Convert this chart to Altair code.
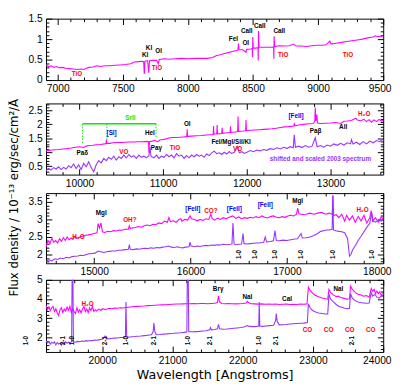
import altair as alt
import pandas as pd

# ---------------- data ----------------
P1_MAGENTA = [(6910,0.37),(6930,0.33),(6950,0.35),(6970,0.31),(6990,0.33),(7010,0.30),(7040,0.31),(7060,0.29),
 (7090,0.28),(7120,0.27),(7150,0.26),(7180,0.27),(7200,0.26),(7220,0.29),(7240,0.31),(7270,0.32),(7300,0.35),
 (7330,0.33),(7360,0.35),(7400,0.35),(7440,0.36),(7480,0.37),(7520,0.38),(7560,0.40),(7590,0.44),(7620,0.45),
 (7650,0.46),(7660,0.45),(7665,0.15),(7670,0.46),(7690,0.47),(7699,0.18),(7705,0.47),(7730,0.48),(7760,0.48),
 (7772,0.40),(7780,0.50),(7820,0.52),(7860,0.51),(7900,0.52),(7950,0.53),(8000,0.52),(8050,0.53),(8100,0.53),
 (8150,0.53),(8190,0.55),(8220,0.60),(8250,0.62),(8280,0.65),(8310,0.67),(8340,0.70),(8370,0.72),(8384,0.73),
 (8388,0.89),(8392,0.74),(8420,0.74),(8446,0.68),(8450,0.75),(8480,0.76),(8494,0.77),(8496,0.56),(8498,1.05),
 (8502,0.78),(8520,0.78),(8538,0.79),(8540,0.48),(8542,1.20),(8546,0.80),(8580,0.80),(8620,0.80),(8650,0.80),
 (8658,0.81),(8660,0.52),(8662,1.07),(8666,0.82),(8700,0.84),(8740,0.83),(8780,0.84),(8810,0.88),(8830,0.83),
 (8870,0.83),(8910,0.82),(8950,0.84),(8990,0.85),(9030,0.85),(9060,0.86),(9090,0.95),(9100,0.88),(9140,0.90),
 (9180,0.92),(9220,0.94),(9260,0.96),(9300,0.98),(9340,1.00),(9380,1.03),(9420,1.05),(9440,1.08),(9460,1.06),
 (9500,1.08)]

P2_MAGENTA = [(9600,1.05),(9650,1.07),(9700,1.09),(9750,1.10),(9800,1.12),(9850,1.13),(9900,1.15),(9950,1.18),
 (10000,1.20),(10049,1.17),(10080,1.22),(10120,1.24),(10160,1.25),(10200,1.27),(10250,1.28),(10300,1.30),
 (10318,1.31),(10322,1.45),(10326,1.32),(10360,1.32),(10400,1.34),(10450,1.35),(10500,1.35),(10550,1.36),
 (10600,1.37),(10650,1.37),(10700,1.38),(10750,1.38),(10800,1.39),(10825,1.38),(10830,0.98),(10836,1.38),
 (10870,1.40),(10900,1.42),(10938,1.38),(10960,1.44),(11000,1.46),(11040,1.48),(11080,1.52),(11120,1.53),
 (11160,1.53),(11200,1.54),(11240,1.55),(11282,1.56),(11287,1.82),(11292,1.57),(11340,1.58),(11400,1.59),
 (11460,1.60),(11520,1.62),(11560,1.63),(11598,1.64),(11602,1.94),(11606,1.65),(11640,1.66),(11645,1.98),
 (11650,1.66),(11700,1.67),(11705,1.88),(11710,1.68),(11760,1.70),(11800,1.71),(11805,1.93),(11810,1.71),
 (11860,1.73),(11890,1.74),(11895,2.28),(11900,1.75),(11950,1.76),(11985,1.77),(11990,2.16),(11995,1.78),
 (12050,1.79),(12100,1.80),(12150,1.81),(12200,1.82),(12250,1.83),(12300,1.84),(12350,1.86),(12400,1.89),
 (12450,1.91),(12500,1.92),(12560,1.94),(12567,2.02),(12575,1.95),(12620,1.98),(12680,2.00),(12740,2.02),
 (12790,2.03),(12812,2.10),(12818,2.60),(12825,2.12),(12835,2.35),(12845,2.05),(12880,2.03),(12940,2.04),
 (13000,2.05),(13060,2.07),(13123,2.03),(13160,2.11),(13200,2.12),(13250,2.14),(13300,2.22),(13320,2.16),
 (13360,2.13),(13400,2.18),(13430,2.10),(13460,2.17),(13490,2.08),(13520,2.16),(13550,2.10),(13580,2.18),
 (13610,2.12),(13630,2.15)]

P2_PURPLE = [(9600,0.33),(9630,0.42),(9660,0.36),(9690,0.45),(9720,0.40),(9750,0.48),(9780,0.38),(9810,0.46),
 (9840,0.40),(9870,0.52),(9900,0.45),(9930,0.58),(9960,0.42),(9990,0.55),(10020,0.38),(10050,0.60),(10080,0.48),
 (10110,0.66),(10140,0.45),(10170,0.30),(10200,0.55),(10230,0.70),(10260,0.62),(10290,0.78),(10320,0.70),
 (10350,0.82),(10380,0.75),(10410,0.86),(10440,0.72),(10470,0.84),(10500,0.78),(10530,0.90),(10560,0.80),
 (10590,0.92),(10620,0.83),(10650,0.88),(10680,0.78),(10710,0.90),(10740,0.82),(10770,0.86),(10800,0.80),
 (10830,0.88),(10842,1.20),(10855,0.85),(10890,0.80),(10920,0.90),(10950,0.78),(10980,0.86),(11010,0.82),
 (11040,0.92),(11070,0.84),(11100,0.90),(11130,0.80),(11160,0.95),(11190,0.86),(11220,0.90),(11250,0.78),
 (11280,0.88),(11310,0.80),(11340,0.90),(11370,0.84),(11400,0.92),(11430,0.86),(11460,0.90),(11490,0.82),
 (11520,0.94),(11550,0.88),(11580,0.98),(11610,1.04),(11640,0.95),(11670,0.98),(11700,0.92),(11730,1.00),
 (11760,0.94),(11790,1.02),(11820,0.96),(11850,1.00),(11890,1.20),(11910,0.98),(11940,1.02),(11970,0.96),
 (12000,1.00),(12040,1.06),(12080,1.02),(12120,1.08),(12160,1.05),(12200,1.10),(12240,1.07),(12280,1.13),
 (12320,1.10),(12360,1.16),(12400,1.12),(12440,1.18),(12480,1.14),(12520,1.20),(12555,1.16),(12567,1.63),
 (12580,1.18),(12620,1.22),(12660,1.17),(12700,1.24),(12740,1.18),(12780,1.22),(12818,1.52),(12840,1.20),
 (12880,1.24),(12920,1.18),(12960,1.26),(13000,1.22),(13040,1.30),(13080,1.25),(13120,1.32),(13160,1.26),
 (13200,1.34),(13240,1.30),(13250,1.45),(13270,1.30),(13310,1.36),(13350,1.28),(13390,1.38),(13430,1.30),
 (13470,1.40),(13510,1.34),(13550,1.42),(13590,1.38),(13630,1.48)]

P3_MAGENTA = [(14500,2.22),(14520,2.40),(14540,2.30),(14560,2.46),(14580,2.35),(14600,2.40),(14620,2.33),
 (14640,2.45),(14660,2.38),(14680,2.48),(14700,2.40),(14720,2.50),(14740,2.42),(14760,2.47),(14780,2.43),
 (14800,2.52),(14820,2.46),(14850,2.50),(14880,2.52),(14910,2.55),(14940,2.56),(14970,2.58),(15000,2.60),
 (15030,2.62),(15040,2.88),(15055,2.75),(15070,2.90),(15085,2.65),(15110,2.63),(15140,2.66),(15170,2.65),
 (15200,2.68),(15230,2.67),(15260,2.70),(15290,2.69),(15320,2.72),(15355,2.72),(15365,2.82),(15375,2.74),
 (15400,2.76),(15430,2.77),(15460,2.80),(15490,2.78),(15520,2.82),(15550,2.84),(15580,2.82),(15610,2.86),
 (15640,2.85),(15670,2.90),(15700,2.88),(15730,2.95),(15760,2.92),(15775,3.05),(15790,2.94),(15820,2.96),
 (15850,2.92),(15880,3.00),(15900,3.02),(15910,2.95),(15940,3.00),(15970,2.98),(15995,3.10),(16010,3.02),
 (16040,3.00),(16070,2.96),(16100,3.00),(16130,2.97),(16160,3.02),(16190,3.00),(16210,3.15),(16225,3.02),
 (16250,2.98),(16280,3.04),(16310,3.00),(16340,3.05),(16370,3.02),(16400,3.06),(16440,3.10),(16470,3.03),
 (16500,3.07),(16530,3.02),(16560,3.05),(16590,3.03),(16620,3.06),(16650,3.04),(16680,3.08),(16710,3.05),
 (16740,3.10),(16770,3.06),(16800,3.04),(16830,3.08),(16860,3.10),(16890,3.06),(16920,3.05),(16950,3.08),
 (16980,3.06),(17010,3.10),(17040,3.12),(17070,3.10),(17100,3.15),(17112,3.32),(17125,3.16),(17160,3.14),
 (17200,3.15),(17240,3.18),(17280,3.15),(17320,3.18),(17360,3.20),(17400,3.15),(17440,3.18),(17470,3.14),
 (17478,3.68),(17486,3.10),(17510,3.14),(17540,3.05),(17570,3.15),(17600,2.95),(17620,3.12),(17650,2.98),
 (17680,3.10),(17710,2.92),(17740,3.08),(17770,2.96),(17800,3.12),(17830,2.90),(17860,3.05),(17875,3.25),
 (17890,2.95),(17920,3.05),(17950,2.92),(17980,3.08),(18000,3.00)]

P3_PURPLE = [(14500,1.80),(14530,1.85),(14560,1.82),(14590,1.88),(14620,1.86),(14650,1.90),(14680,1.88),
 (14710,1.92),(14740,1.90),(14770,1.94),(14800,1.95),(14830,1.96),(14860,1.98),(14890,1.97),(14920,2.00),
 (14950,2.02),(14980,2.03),(15010,2.04),(15040,2.10),(15070,2.08),(15100,2.06),(15130,2.08),(15160,2.09),
 (15190,2.10),(15220,2.10),(15250,2.12),(15280,2.12),(15320,2.14),(15355,2.15),(15365,2.28),(15375,2.15),
 (15410,2.14),(15440,2.16),(15470,2.15),(15500,2.17),(15530,2.18),(15560,2.17),(15590,2.19),(15620,2.18),
 (15650,2.20),(15680,2.19),(15710,2.21),(15740,2.22),(15770,2.24),(15800,2.21),(15830,2.20),(15860,2.22),
 (15890,2.20),(15920,2.19),(15950,2.21),(15985,2.22),(15995,2.35),(16005,2.24),(16040,2.22),(16070,2.24),
 (16100,2.23),(16130,2.25),(16160,2.26),(16190,2.25),(16220,2.27),(16250,2.26),(16280,2.28),(16310,2.27),
 (16340,2.29),(16370,2.28),(16410,2.29),(16430,2.30),(16440,2.90),(16452,2.30),(16470,2.28),(16500,2.29),
 (16530,2.30),(16545,2.60),(16555,2.31),(16590,2.30),(16620,2.31),(16650,2.32),(16680,2.33),(16710,2.33),
 (16740,2.34),(16760,2.35),(16775,2.50),(16790,2.36),(16830,2.37),(16860,2.39),(16877,2.68),(16890,2.40),
 (16920,2.39),(16960,2.41),(17000,2.40),(17040,2.42),(17080,2.44),(17110,2.45),(17147,2.60),(17160,2.47),
 (17200,2.48),(17240,2.50),(17280,2.54),(17320,2.60),(17350,2.66),(17380,2.68),(17410,2.70),(17440,2.70),
 (17470,2.72),(17476,3.68),(17484,2.70),(17510,2.68),(17540,2.66),(17570,2.65),(17600,2.62),(17630,2.45),
 (17650,1.95),(17665,2.00),(17680,2.12),(17710,2.25),(17740,2.40),(17770,2.52),(17800,2.65),(17830,2.78),
 (17860,2.88),(17880,3.20),(17895,2.95),(17920,2.92),(17950,2.98),(17980,2.95),(18000,3.00)]

P4_MAGENTA = [(19200,3.67),(19220,3.45),(19240,3.60),(19260,3.40),(19280,3.55),(19300,3.62),(19320,3.35),
 (19340,3.50),(19360,3.28),(19380,3.15),(19400,3.45),(19420,3.55),(19440,3.30),(19460,3.48),(19480,3.38),
 (19500,3.58),(19520,3.42),(19540,3.62),(19560,3.30),(19580,3.50),(19600,3.35),(19620,3.25),(19640,3.55),
 (19660,3.32),(19680,3.45),(19700,3.28),(19720,3.50),(19740,3.62),(19760,3.35),(19780,3.48),(19800,3.30),
 (19820,3.55),(19840,3.40),(19860,3.62),(19880,3.36),(19900,3.45),(19920,3.38),(19950,3.48),(19980,3.42),
 (20010,3.50),(20040,3.46),(20070,3.48),(20100,3.52),(20140,3.50),(20180,3.53),(20220,3.52),(20260,3.55),
 (20300,3.54),(20340,3.56),(20380,3.58),(20420,3.60),(20460,3.61),(20500,3.62),(20550,3.63),(20600,3.64),
 (20650,3.66),(20700,3.67),(20750,3.68),(20800,3.69),(20850,3.70),(20900,3.71),(20950,3.72),(21000,3.73),
 (21050,3.74),(21100,3.74),(21150,3.75),(21200,3.76),(21250,3.76),(21300,3.77),(21350,3.76),(21400,3.77),
 (21450,3.77),(21500,3.76),(21550,3.77),(21600,3.78),(21640,3.82),(21655,4.15),(21670,3.85),(21700,3.77),
 (21750,3.76),(21800,3.77),(21850,3.76),(21900,3.75),(21950,3.76),(22000,3.77),(22050,3.80),(22065,3.88),
 (22080,3.82),(22120,3.76),(22170,3.75),(22220,3.74),(22270,3.75),(22320,3.73),(22370,3.74),(22420,3.73),
 (22470,3.74),(22520,3.72),(22570,3.73),(22620,3.74),(22670,3.72),(22720,3.73),(22770,3.72),(22820,3.74),
 (22870,3.73),(22915,3.75),(22935,4.62),(22960,4.45),(22990,4.32),(23030,4.20),(23080,4.12),(23130,4.06),
 (23180,4.02),(23210,4.00),(23227,4.50),(23250,4.35),(23290,4.22),(23330,4.12),(23361,4.15),(23390,4.08),
 (23430,4.05),(23480,4.00),(23520,4.02),(23535,4.67),(23560,4.50),(23600,4.35),(23640,4.25),(23680,4.22),
 (23720,4.15),(23760,4.18),(23800,4.10),(23829,4.55),(23850,4.40),(23870,4.50),(23890,4.30),(23910,4.42),
 (23930,4.28),(23950,4.38),(23970,4.22),(24000,4.30)]

P4_PURPLE = [(19200,1.84),(19220,1.72),(19240,1.80),(19260,1.65),(19280,1.76),(19300,1.70),(19320,1.78),
 (19340,1.62),(19360,1.74),(19380,1.66),(19400,1.72),(19420,1.60),(19440,1.75),(19460,1.68),(19480,1.78),
 (19500,1.70),(19520,1.76),(19550,1.72),(19565,1.80),(19572,5.6),(19582,5.6),(19590,1.80),(19620,1.76),
 (19650,1.80),(19680,1.78),(19710,1.82),(19740,1.80),(19770,1.84),(19800,1.82),(19830,1.85),(19860,1.84),
 (19890,1.87),(19920,1.86),(19950,1.88),(19980,1.90),(20010,1.92),(20040,2.08),(20060,1.93),(20100,1.94),
 (20140,1.96),(20180,1.97),(20220,1.98),(20260,2.00),(20300,2.01),(20330,2.05),(20338,3.85),(20348,2.05),
 (20380,2.02),(20420,2.04),(20460,2.05),(20500,2.07),(20550,2.08),(20600,2.10),(20650,2.12),(20700,2.14),
 (20725,2.30),(20735,2.75),(20750,2.30),(20770,2.15),(20820,2.16),(20870,2.18),(20920,2.19),(20970,2.21),
 (21020,2.22),(21070,2.24),(21120,2.25),(21170,2.27),(21205,2.30),(21212,5.6),(21224,5.6),(21232,2.30),
 (21280,2.30),(21330,2.31),(21380,2.32),(21430,2.34),(21480,2.35),(21530,2.40),(21542,2.52),(21555,2.40),
 (21600,2.42),(21640,2.45),(21655,2.68),(21670,2.46),(21720,2.43),(21770,2.44),(21820,2.46),(21870,2.48),
 (21920,2.50),(21970,2.52),(22020,2.55),(22065,2.62),(22100,2.58),(22150,2.57),(22200,2.58),(22228,2.60),
 (22235,3.85),(22243,2.60),(22280,2.58),(22330,2.60),(22380,2.62),(22440,2.64),(22470,2.90),(22477,3.25),
 (22490,2.85),(22520,2.66),(22570,2.67),(22620,2.68),(22670,2.70),(22720,2.72),(22770,2.73),(22820,2.74),
 (22870,2.75),(22920,2.78),(22935,3.75),(22960,3.55),(22990,3.42),(23030,3.34),(23080,3.28),(23130,3.25),
 (23180,3.22),(23210,3.22),(23227,4.25),(23250,4.00),(23290,3.85),(23330,3.72),(23370,3.62),(23410,3.58),
 (23450,3.52),(23500,3.50),(23520,3.52),(23535,4.28),(23560,4.05),(23600,3.92),(23640,3.85),(23680,3.82),
 (23720,3.80),(23760,3.78),(23800,3.80),(23829,4.33),(23850,4.15),(23880,4.25),(23910,4.10),(23940,4.05),
 (23970,4.15),(24000,4.17)]

# annotations: (wavelength, flux, text, colour)
P1_LABELS = [(7147,0.15,"TiO","red"),(7671,0.61,"KI","black"),(7701,0.79,"KI","black"),(7775,0.71,"OI","black"),
 (7763,0.30,"TiO","red"),(8349,1.01,"FeI","black"),(8444,0.91,"OI","black"),(8452,1.20,"CaII","black"),
 (8552,1.32,"CaII","black"),(8701,1.20,"CaII","black"),(8731,0.61,"TiO","red"),(9230,0.61,"TiO","red")]
P2_LABELS = [(10034,0.97,"Paδ","black"),(10609,2.23,"SrII","green"),(10384,1.68,"[SI]","blue"),
 (10842,1.68,"HeI","black"),(10919,1.14,"Paγ","black"),(10531,1.02,"VO","red"),(11140,1.14,"TiO","red"),
 (11288,2.02,"OI","black"),(11812,1.38,"FeI/MgI/SiI/KI","black"),(11890,1.10,"VO","red"),
 (12588,2.29,"[FeII]","blue"),(12821,1.77,"Paβ","black"),(13151,1.89,"AlI","black"),(13403,2.37,"H₂O","red")]
P2_NOTE = [(12879,0.74,"shifted and scaled 2003 spectrum","purple")]
P3_LABELS = [(14837,2.50,"H₂O","red"),(15073,3.18,"MgI","black"),(15370,2.97,"OH?","red"),
 (16024,3.31,"[FeII]","blue"),(16212,3.24,"CO?","red"),(16455,3.31,"[FeII]","blue"),(16775,3.40,"[FeII]","blue"),
 (17112,3.51,"MgI","black"),(17786,3.27,"H₂O","red")]
P4_LABELS = [(19792,3.75,"H₂O","red"),(21650,4.50,"Brγ","black"),(22067,4.09,"NaI","black"),
 (22630,4.00,"CaI","black"),(23361,4.50,"NaI","black"),(22922,2.39,"CO","red"),(23222,2.39,"CO","red"),
 (23523,2.39,"CO","red"),(23823,2.39,"CO","red")]
# H2 line markers (rotated)
P3_H2 = [(16504,2.0,"1-0"),(16665,2.0,"1-0"),(16877,2.0,"1-0"),(17147,2.0,"1-0"),(17480,2.0,"1-0"),(17880,2.0,"1-0")]
P4_H2 = [(18920,1.84,"1-0"),(19449,1.84,"2-1"),(19576,1.84,"1-0"),(20041,1.84,"2-1"),(20338,1.84,"1-0"),
 (20735,1.84,"2-1"),(21218,1.84,"1-0"),(21542,1.84,"2-1"),(22235,1.84,"1-0"),(22477,1.84,"2-1"),(23556,1.84,"2-1")]
# SrII bracket
SRII_LAM = [10036.65, 10327.31, 10914.87]
SRII_TOP = 2.02
SRII_BOT = [1.31, 1.43, 1.54]

COLORS = {"red": "#ff0000", "black": "#000000", "blue": "#0000ff", "green": "#00ee00", "purple": "#9933ff"}
MAG = "#ff00ff"
PUR = "#9933ff"
W = 346
LFONT = "Liberation Sans"


def ticks(a, b, step, major):
    out, v = [], a
    while v <= b + 1e-9:
        r = round(v, 3)
        if all(abs(r - m) > 1e-6 for m in major):
            out.append(r)
        v += step
    return out


def lines_layer(pts, color, xs, ys, xaxis, yaxis):
    df = pd.DataFrame(pts, columns=["lam", "flux"])
    return alt.Chart(df).mark_line(color=color, strokeWidth=1.1, clip=True).encode(
        x=alt.X("lam:Q", scale=xs, axis=xaxis), y=alt.Y("flux:Q", scale=ys, axis=yaxis))


def text_layer(rows, xs, ys, size=6.5, angle=0, default_color="black"):
    recs = []
    for r in rows:
        col = r[3] if len(r) > 3 else default_color
        recs.append({"lam": r[0], "flux": r[1], "txt": r[2], "col": COLORS[col]})
    df = pd.DataFrame(recs)
    return alt.Chart(df).mark_text(font=LFONT, fontSize=size, fontWeight="bold", angle=angle).encode(
        x=alt.X("lam:Q", scale=xs, axis=None), y=alt.Y("flux:Q", scale=ys, axis=None),
        text="txt:N", color=alt.Color("col:N", scale=None))


def panel(xdom, ydom, H, series, xmaj, xminor, ymaj, yminor, extra, xtitle=None):
    xs = alt.Scale(domain=xdom, nice=False, zero=False)
    ys = alt.Scale(domain=ydom, nice=False, zero=False)
    xa = alt.Axis(orient="bottom", values=xmaj, format="d", ticks=False, domain=False, grid=False,
                  labelPadding=4, labelFlush=True, labelFlushOffset=8, title=xtitle, titlePadding=3)
    ya = alt.Axis(orient="left", values=ymaj, format="~g", ticks=False, domain=False, grid=False,
                  labelPadding=4, title=None)
    layers = []
    for i, (pts, col) in enumerate(series):
        if i == 0:
            layers.append(lines_layer(pts, col, xs, ys, xa, ya))
        else:
            layers.append(lines_layer(pts, col, xs, ys, None, None))
    layers += [f(xs, ys) for f in extra]
    dummy = pd.DataFrame({"lam": [xdom[0]], "flux": [ydom[0]]})
    for ox, oy, vx, vy, size in [("top", "right", xmaj, ymaj, 6), ("top", "right", xminor, yminor, 3),
                                 ("bottom", "left", xmaj, ymaj, 6), ("bottom", "left", xminor, yminor, 3)]:
        layers.append(alt.Chart(dummy).mark_point(opacity=0).encode(
            x=alt.X("lam:Q", scale=xs, axis=alt.Axis(orient=ox, offset=-H, values=vx, labels=False,
                    domain=False, grid=False, tickSize=size, tickColor="black", title=None)),
            y=alt.Y("flux:Q", scale=ys, axis=alt.Axis(orient=oy, offset=-W, values=vy, labels=False,
                    domain=False, grid=False, tickSize=size, tickColor="black", title=None))))
    return alt.layer(*layers).resolve_axis(x="independent", y="independent").properties(width=W, height=H)


def srii(xs, ys):
    h = pd.DataFrame({"a": [SRII_LAM[0]], "b": [SRII_LAM[-1]], "y": [SRII_TOP]})
    v = pd.DataFrame({"lam": SRII_LAM, "top": [SRII_TOP] * 3, "bot": SRII_BOT})
    hr = alt.Chart(h).mark_rule(color=COLORS["green"], strokeWidth=1.5).encode(
        x=alt.X("a:Q", scale=xs, axis=None), x2="b:Q", y=alt.Y("y:Q", scale=ys, axis=None))
    vr = alt.Chart(v).mark_rule(color=COLORS["green"], strokeWidth=1, strokeDash=[1.5, 1.5]).encode(
        x=alt.X("lam:Q", scale=xs, axis=None), y=alt.Y("top:Q", scale=ys, axis=None), y2="bot:Q")
    return alt.layer(hr, vr)


p1x = [7000, 7500, 8000, 8500, 9000, 9500]
p1y = [0, 0.5, 1, 1.5]
p1 = panel([6910, 9500], [0, 1.5], 63, [(P1_MAGENTA, MAG)], p1x, ticks(7000, 9400, 100, p1x),
           p1y, ticks(0.1, 1.4, 0.1, p1y), [lambda xs, ys: text_layer(P1_LABELS, xs, ys)])

p2x = [10000, 11000, 12000, 13000]
p2y = [0.5, 1, 1.5, 2, 2.5]
p2 = panel([9600, 13630], [0.2, 2.75], 73, [(P2_MAGENTA, MAG), (P2_PURPLE, PUR)], p2x,
           ticks(9600, 13600, 200, p2x), p2y, ticks(0.3, 2.7, 0.1, p2y),
           [srii, lambda xs, ys: text_layer(P2_LABELS, xs, ys),
            lambda xs, ys: text_layer(P2_NOTE, xs, ys, size=6.5)])

p3x = [15000, 16000, 17000, 18000]
p3y = [2, 2.5, 3, 3.5]
p3 = panel([14500, 18000], [1.75, 3.75], 72, [(P3_MAGENTA, MAG), (P3_PURPLE, PUR)], p3x,
           ticks(14600, 17800, 200, p3x), p3y, ticks(1.8, 3.7, 0.1, p3y),
           [lambda xs, ys: text_layer(P3_LABELS, xs, ys),
            lambda xs, ys: text_layer(P3_H2, xs, ys, size=6.5, angle=270)])

p4x = [20000, 21000, 22000, 23000, 24000]
p4y = [2, 3, 4, 5]
p4 = panel([19200, 24000], [1.25, 5.0], 74, [(P4_MAGENTA, MAG), (P4_PURPLE, PUR)], p4x,
           ticks(19200, 23800, 200, p4x), p4y, ticks(1.4, 4.8, 0.2, p4y),
           [lambda xs, ys: text_layer(P4_LABELS, xs, ys),
            lambda xs, ys: text_layer(P4_H2, xs, ys, size=6.5, angle=270)],
           xtitle="Wavelength [Angstroms]")

inner3 = alt.vconcat(p3, p4, spacing=17, bounds="flush")
inner2 = alt.vconcat(p2, inner3, spacing=19, bounds="flush")
chart = alt.vconcat(p1, inner2, spacing=24, bounds="flush").properties(
    padding=0,
    background="white",
    title=alt.TitleParams(text="Flux density / 10⁻¹³ erg/sec/cm²/Å", orient="left", anchor="middle",
                          font="DejaVu Sans", fontSize=12, fontWeight="normal", color="black", offset=2),
).configure_view(stroke="black", strokeWidth=1).configure_axis(
    labelFont="Liberation Sans", labelFontSize=10.5, labelColor="black",
    titleFont="DejaVu Sans", titleFontSize=13, titleFontWeight="normal", titleColor="black")

chart.save("out.html", embed_options={"renderer": "svg", "actions": False})
